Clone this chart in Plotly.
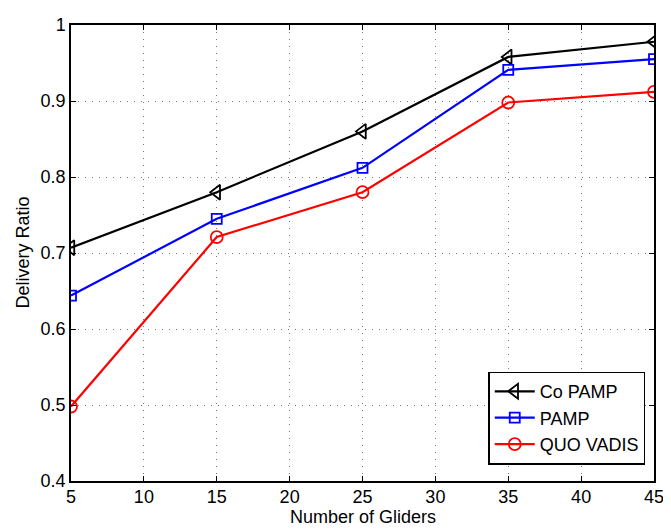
import plotly.graph_objects as go

gliders = [5, 15, 25, 35, 45]
co_pamp = [0.707, 0.780, 0.860, 0.958, 0.978]
pamp = [0.644, 0.745, 0.812, 0.941, 0.955]
quo_vadis = [0.498, 0.721, 0.780, 0.898, 0.912]

x_ticks = [5, 10, 15, 20, 25, 30, 35, 40, 45]
y_ticks = [0.4, 0.5, 0.6, 0.7, 0.8, 0.9, 1.0]
y_tick_text = ["0.4", "0.5", "0.6", "0.7", "0.8", "0.9", "1"]

x_title = "Number of Gliders"
y_title = "Delivery Ratio"

FONT = "Liberation Sans, Arial, Helvetica, sans-serif"

fig = go.Figure()
fig.add_trace(go.Scatter(x=gliders, y=co_pamp, name="Co PAMP", mode="lines+markers",
                         line=dict(color="black", width=2.2),
                         marker=dict(symbol="triangle-left-open", size=13, color="black",
                                     line=dict(width=1.8))))
fig.add_trace(go.Scatter(x=gliders, y=pamp, name="PAMP", mode="lines+markers",
                         line=dict(color="#0000ff", width=2.2),
                         marker=dict(symbol="square-open", size=10, color="#0000ff",
                                     line=dict(width=1.8))))
fig.add_trace(go.Scatter(x=gliders, y=quo_vadis, name="QUO VADIS", mode="lines+markers",
                         line=dict(color="#ff0000", width=2.2),
                         marker=dict(symbol="circle-open", size=12, color="#ff0000",
                                     line=dict(width=1.8))))

axis_common = dict(
    showline=True, linecolor="black", linewidth=1.5, mirror="ticks",
    ticks="inside", ticklen=5, tickcolor="black", tickwidth=1,
    showgrid=True, gridcolor="#777777", griddash="1px,6px", gridwidth=1,
    zeroline=False, ticklabeloverflow="allow",
    tickfont=dict(family=FONT, size=18, color="black"),
)

fig.update_xaxes(range=[5, 45], tickvals=x_ticks, ticktext=[str(v) for v in x_ticks],
                 ticklabelstandoff=-1, **axis_common)
fig.update_yaxes(range=[0.4, 1.0], tickvals=y_ticks, ticktext=y_tick_text,
                 **axis_common)

# plot area: 590 x 466 px; page body has an 8px margin, so the figure is 663x523
fig.add_annotation(text=x_title, xref="paper", yref="paper", x=0.5, y=-37 / 466,
                   xanchor="center", yanchor="middle", showarrow=False, borderpad=0,
                   font=dict(family=FONT, size=18, color="black"))
fig.add_annotation(text=y_title, xref="paper", yref="paper", x=-49 / 590, y=0.5,
                   xanchor="center", yanchor="middle", textangle=-90, showarrow=False,
                   borderpad=0, font=dict(family=FONT, size=18, color="black"))

fig.update_layout(
    width=663, height=523,
    margin=dict(l=63, r=10, t=7, b=50),
    paper_bgcolor="white", plot_bgcolor="white",
    font=dict(family=FONT, size=18, color="black"),
    legend=dict(x=0.985, y=0.036, xanchor="right", yanchor="bottom",
                bgcolor="white", bordercolor="black", borderwidth=1.5,
                font=dict(family=FONT, size=18, color="black"), tracegroupgap=0, itemwidth=40),
    showlegend=True,
)

fig.write_html("out.html")
